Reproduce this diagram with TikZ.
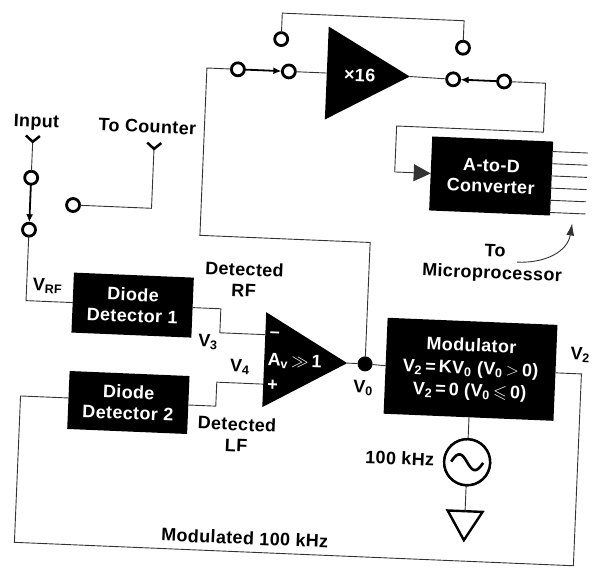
\documentclass[tikz,border=0pt]{standalone}
\usepackage{amssymb}
\usepackage{fontspec}
\setmainfont{Liberation Sans}[BoldFont={Liberation Sans Bold},LetterSpace=2]
\usetikzlibrary{arrows.meta,shapes.geometric}
\tikzset{
	every node/.append style={transform shape,font=\fontsize{18}{21}\selectfont\bfseries,inner sep=0pt,outer sep=0pt},
	wire/.style={line width=0.9pt,black!80},
	blockbox/.style={rectangle,fill=black,text=white,align=center},
	termcircle/.style={circle,draw=black,fill=white,line width=2.8pt,minimum size=13pt},
	switcharm/.style={line width=1.8pt,-{Latex[length=8pt,width=7pt]},shorten >=1pt},
	jackline/.style={line width=2.5pt},
	ampnode/.style={isosceles triangle,isosceles triangle stretches,fill=black,anchor=lower side}
}
\begin{document}
\begin{tikzpicture}[x=1pt,y=-1pt]
		\useasboundingbox (0,0) rectangle (596,567);
		\begin{scope}[rotate around={-2.4:(298,283)}]
		\node[termcircle] (swInA) at (229,72) {};
		\node[termcircle] (swInB) at (280,72) {};
		\node[termcircle] (swUpL) at (271,40) {};
		\node[termcircle] (swUpR) at (453,41) {};
		\node[termcircle] (swOutA) at (444.5,73) {};
		\node[termcircle] (swOutB) at (495.5,73) {};
		\node[termcircle] (swFeedA) at (27,189) {};
		\node[termcircle] (swFeedB) at (27,241) {};
		\node[termcircle] (swCount) at (70,214.5) {};
		\node[ampnode,minimum width=93pt,minimum height=83pt] (ampX) at (318,72) {};
		\node[ampnode,minimum width=95pt,minimum height=83pt] (ampMain) at (267.5,361) {};
		\node[blockbox,minimum width=121pt,minimum height=74pt] (adc) at (486.5,168) {A-to-D\\Converter};
		\node[blockbox,minimum width=120pt,minimum height=60pt] (detOne) at (133.7,312) {Diode\\Detector 1};
		\node[blockbox,minimum width=120pt,minimum height=58pt] (detTwo) at (133.5,409.5) {Diode\\Detector 2};
		\node[blockbox,minimum width=170pt,minimum height=96pt,font=\fontsize{18}{22.5}\selectfont\bfseries] (mod) at (474,362) {Modulator\\V\textsubscript{2}\,=\,KV\textsubscript{0} (V\textsubscript{0}\,$>$\,0)\\V\textsubscript{2}\,=\,0 (V\textsubscript{0}\,$\leqslant$\,0)};
		\node[circle,fill=black,minimum size=15pt] (dotVo) at (368.4,361) {};
		\node[circle,draw=black,fill=white,line width=2.4pt,minimum size=46pt] (src) at (474.5,455) {};
		\node[isosceles triangle,isosceles triangle stretches,draw=black,line width=2.4pt,shape border rotate=-90,anchor=lower side,minimum width=35pt,minimum height=29pt] (gnd) at (474.5,504) {};
		\node (lblInput) at (30,134) {Input};
		\node (lblCount) at (141,133) {To Counter};
		\node[align=center] (lblDetRF) at (244,282) {Detected\\RF};
		\node[align=center] (lblDetLF) at (243,437) {Detected\\LF};
		\node (lblVrf) at (48,296.5) {V\textsubscript{RF}};
		\node (lblVthree) at (210.5,346) {V\textsubscript{3}};
		\node (lblVfour) at (243.5,369.5) {V\textsubscript{4}};
		\node (lblVo) at (367.5,385) {V\textsubscript{0}};
		\node (lblVtwo) at (583,343) {V\textsubscript{2}};
		\node (lblSrc) at (407,454) {100 kHz};
		\node (lblMod) at (255.5,540) {Modulated 100 kHz};
		\node (lblTo) at (493.5,242.5) {To};
		\node (lblMicro) at (491.5,266) {Microprocessor};
		\coordinate (jackIn) at (27,153);
		\coordinate (jackCount) at (148.5,155);
		\coordinate (busTurn) at (198,239.5);
		\coordinate (adcTurn) at (537,122);
		\coordinate (adcDrop) at (390,168);
		\coordinate (kneeOne) at (222,312);
		\coordinate (kneeTwo) at (221,409.5);
		\coordinate (ampInM) at (267.5,336);
		\coordinate (ampInP) at (267.5,385.5);
		\coordinate (loopL) at (25.5,554);
		\coordinate (loopR) at (585,554);
		\coordinate (curveTail) at (516,253);
		\coordinate (curveHead) at (569.5,212);
		\draw[wire] (swUpL) -- ++(0,-26) -| (swUpR);
		\draw[wire] (swInA) -| (busTurn) -| (dotVo);
		\draw[wire] (swInB) -- (ampX.lower side);
		\draw[wire] (ampX.apex) -- (swOutA);
		\draw[wire,-{Triangle[length=17pt,width=17pt]}] (swOutB) -| (adcTurn) -| (adcDrop) -- (adc.west);
		\draw[wire] (jackIn) -- (swFeedA);
		\draw[wire] (jackCount) |- (swCount);
		\draw[wire] (swFeedB) |- (detOne.west);
		\draw[wire] (detOne.east) -- (kneeOne) |- (ampInM);
		\draw[wire] (detTwo.east) -- (kneeTwo) |- (ampInP);
		\draw[wire] (ampMain.apex) -- (dotVo) -- (mod.west);
		\draw[wire] (mod.south -| src) -- (src);
		\draw[wire] (src) -- (gnd.lower side);
		\draw[wire] ([yshift=2pt]detTwo.west) -| (loopL) -- (loopR) |- (mod.east);
		\draw[switcharm] (swInA) -- (swInB);
		\draw[switcharm] (swOutB) -- (swOutA);
		\draw[switcharm] (swFeedA) -- (swFeedB);
		\draw[jackline] (jackIn) ++(-7,-6) -- (jackIn) -- ++(7,-6);
		\draw[jackline] (jackCount) ++(-7,-6) -- (jackCount) -- ++(7,-6);
		\foreach \i in {0,...,5} {
			\coordinate (outBit\i) at (582.5,{141+12.2*\i});
			\draw[wire] (outBit\i -| adc.east) -- (outBit\i);
		}
		\draw[wire,-{Latex[length=12pt,width=8pt]}] (curveTail) .. controls (545,253) and (566,240) .. (curveHead);
		\node[circle,draw=black,fill=white,line width=2.4pt,minimum size=46pt] (srcFace) at (src) {};
		\node[text=white] (ampXlabel) at (351,73) {×16};
		\node[text=white] (ampMinus) at (277,336) {–};
		\node[text=white] (ampPlus) at (277,386) {+};
		\node[text=white] (ampGain) at (298,362) {A\textsubscript{v}\,$\gg$\,1};
		\draw[line width=2.6pt,shift={(474.5,455)}] (-16,0) .. controls (-9,-12) and (-5,-8) .. (0,0) .. controls (5,8) and (9,12) .. (16,0);
		\end{scope}
		\end{tikzpicture}
\end{document}
